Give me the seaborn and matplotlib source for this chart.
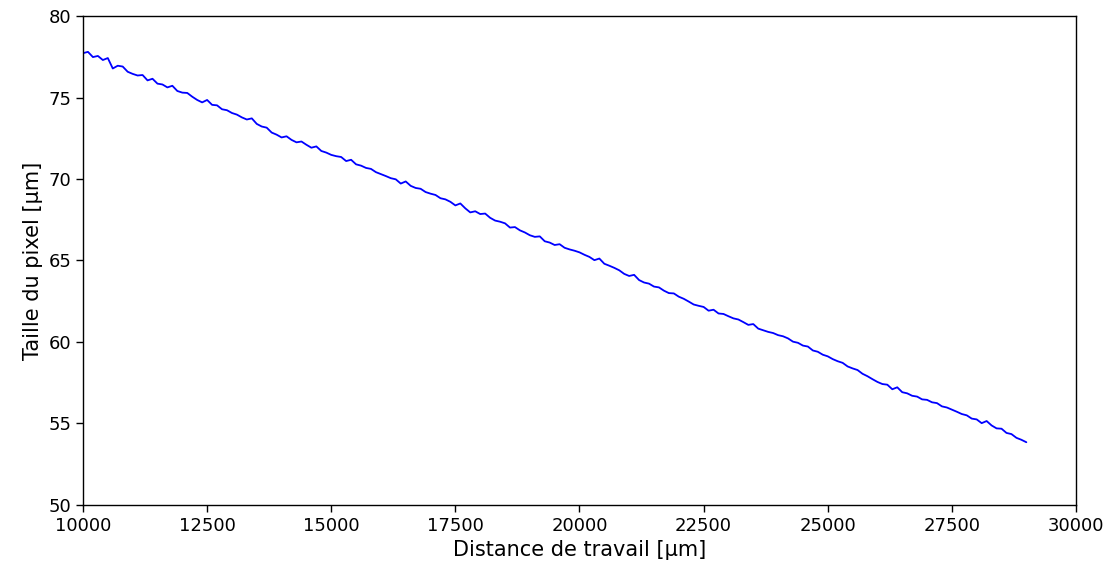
import numpy as np
import pandas as pd
import matplotlib
matplotlib.use("Agg")
import matplotlib.pyplot as plt
import seaborn as sns

sns.set_style("ticks")
plt.rcParams["font.family"] = ["DejaVu Sans"]

# === Data (one point every 100 um) ===
distance = np.arange(10000, 29001, 100)

taille = [
    77.72, 77.80, 77.48, 77.55, 77.30, 77.42, 76.78, 76.95, 76.90, 76.58,
    76.45, 76.35, 76.38, 76.05, 76.15, 75.85, 75.80, 75.62, 75.72, 75.40,
    75.30, 75.28, 75.05, 74.85, 74.70, 74.85, 74.55, 74.52, 74.28, 74.22,
    74.05, 73.95, 73.78, 73.65, 73.72, 73.38, 73.22, 73.15, 72.85, 72.72,
    72.55, 72.62, 72.40, 72.25, 72.30, 72.10, 71.92, 72.00, 71.72, 71.62,
    71.48, 71.40, 71.35, 71.10, 71.18, 70.90, 70.82, 70.68, 70.62, 70.42,
    70.30, 70.18, 70.05, 69.98, 69.72, 69.85, 69.58, 69.45, 69.40, 69.20,
    69.10, 69.02, 68.82, 68.75, 68.60, 68.38, 68.50, 68.20, 67.95, 68.02,
    67.85, 67.88, 67.62, 67.45, 67.38, 67.28, 67.02, 67.05, 66.85, 66.72,
    66.55, 66.45, 66.48, 66.18, 66.10, 65.95, 66.00, 65.78, 65.68, 65.60,
    65.50, 65.35, 65.22, 65.02, 65.12, 64.80, 64.68, 64.55, 64.40, 64.18,
    64.05, 64.12, 63.80, 63.65, 63.58, 63.40, 63.35, 63.15, 63.00, 62.98,
    62.78, 62.65, 62.48, 62.30, 62.22, 62.15, 61.92, 61.98, 61.75, 61.72,
    61.58, 61.45, 61.38, 61.22, 61.05, 61.10, 60.82, 60.72, 60.62, 60.55,
    60.42, 60.35, 60.22, 60.02, 59.95, 59.78, 59.72, 59.48, 59.40, 59.22,
    59.12, 58.95, 58.82, 58.72, 58.50, 58.38, 58.28, 58.05, 57.90, 57.72,
    57.55, 57.42, 57.38, 57.10, 57.22, 56.92, 56.85, 56.70, 56.65, 56.48,
    56.45, 56.30, 56.25, 56.05, 55.98, 55.85, 55.72, 55.58, 55.50, 55.30,
    55.25, 55.02, 55.15, 54.88, 54.70, 54.68, 54.42, 54.35, 54.12, 54.00,
    53.85,
]

df = pd.DataFrame({"distance": distance, "taille": taille})

# === Plot ===
fig, ax = plt.subplots(figsize=(11.11, 5.76), dpi=100)
fig.subplots_adjust(left=0.0747, right=0.9685, top=0.9722, bottom=0.1233)

sns.lineplot(data=df, x="distance", y="taille", color="#0000ff", linewidth=1.3, ax=ax)

ax.set_xlim(10000, 30000)
ax.set_ylim(50, 80)
ax.set_xticks(np.arange(10000, 30001, 2500))
ax.set_yticks(np.arange(50, 81, 5))
ax.set_xlabel("Distance de travail [µm]", fontsize=15, color="black")
ax.set_ylabel("Taille du pixel [µm]", fontsize=15, color="black")
ax.tick_params(axis="both", direction="out", length=5, width=1, colors="black", labelsize=13)

for s in ax.spines.values():
    s.set_visible(True)
    s.set_color("black")
    s.set_linewidth(1)

fig.savefig("out.png", dpi=100)
